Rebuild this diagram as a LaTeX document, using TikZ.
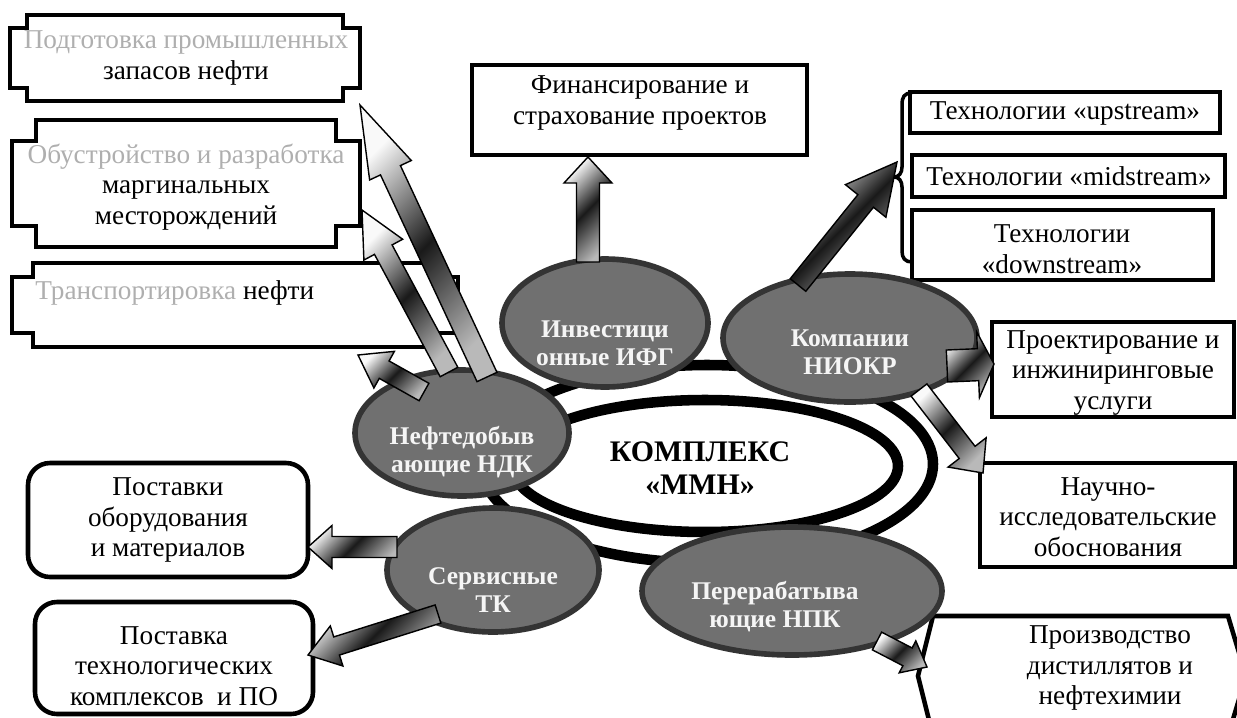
\documentclass[tikz,border=0pt]{standalone}
\usepackage{fontspec}
\setmainfont{Liberation Serif}
\usetikzlibrary{calc,shapes.geometric}
\definecolor{blobfill}{RGB}{112,112,112}
\definecolor{blobedge}{RGB}{52,52,52}
\definecolor{ghost}{RGB}{175,175,175}
\definecolor{blobtxt}{RGB}{245,245,245}
\tikzset{
  boxline/.style={draw=black, line width=2.6pt, fill=white, line join=miter},
  txt/.style={align=center, font=\fontsize{15.5}{17.5}\selectfont, inner sep=0pt},
  blob/.style={ellipse, draw=blobedge, fill=blobfill, line width=3.2pt, inner sep=0pt},
  blobtext/.style={align=center, text=blobtxt, font=\bfseries\fontsize{14.5}{16}\selectfont, inner sep=0pt},
  ring/.style={ellipse, draw=black, line width=6pt, fill=white, inner sep=0pt},
  barrow/.style={draw=black, line width=0.8pt, line join=miter, top color=gray!5, bottom color=gray!55, middle color=black!90, shading angle=45},
  bracestyle/.style={draw=black, line width=2pt},
}
\newcommand\plaque[6]{%
  \draw[boxline] (#1+#5,#2) -- (#3-#5,#2) -- (#3-#5,#2+#6) -- (#3,#2+#6) -- (#3,#4-#6) -- (#3-#5,#4-#6) -- (#3-#5,#4) -- (#1+#5,#4) -- (#1+#5,#4-#6) -- (#1,#4-#6) -- (#1,#2+#6) -- (#1+#5,#2+#6) -- cycle;}
\newcommand\blockarrow[5]{%
  \pgfmathsetmacro\bsw{#3*0.02}\pgfmathsetmacro\bhw{#4*0.02}\pgfmathsetmacro\bhl{#5*0.02}%
  \coordinate (hb) at ($(#2)!\bhl cm!(#1)$);
  \draw[barrow] ($(#1)!\bsw cm!90:(#2)$) -- ($(hb)!\bsw cm!90:(#2)$) -- ($(hb)!\bhw cm!90:(#2)$) -- (#2) -- ($(hb)!\bhw cm!-90:(#2)$) -- ($(hb)!\bsw cm!-90:(#2)$) -- ($(#1)!\bsw cm!-90:(#2)$) -- cycle;}
\begin{document}
\begin{tikzpicture}[x=0.02cm, y=-0.02cm]
\useasboundingbox (0,0) rectangle (1237,717);

% ---- left plaques
\plaque{10}{15}{360}{101}{17}{13}
\plaque{12}{120}{360}{247}{24}{21}
\plaque{12}{263}{458}{347}{21}{14}

% ---- finance box
\draw[boxline] (472,65) rectangle (807,155);
% ---- technology boxes
\draw[boxline] (910,92) rectangle (1220,133);
\draw[boxline] (912,155) rectangle (1225,197);
\draw[boxline] (912,210) rectangle (1213,280);
\draw[bracestyle] (912,93) .. controls (904,93) and (902,97) .. (902,105) -- (902,167) .. controls (902,173) and (899,177) .. (894,177) .. controls (899,177) and (902,181) .. (902,187) -- (902,251) .. controls (902,258) and (905,262) .. (912,262);

% ---- right boxes
\draw[boxline] (992,322) rectangle (1234,417);
\draw[boxline] (980,463) rectangle (1235,567);
\draw[boxline] (933,616) -- (1228,616) -- (1246,676) -- (1228,736) -- (933,736) -- (918,676) -- cycle;

% ---- left bottom rounded boxes
\draw[boxline, rounded corners=22*0.02cm] (28,463) rectangle (308,577);
\draw[boxline, rounded corners=22*0.02cm] (35,602) rectangle (313,714);

% ---- central rings
\node[ring, minimum width=452*0.02cm, minimum height=198*0.02cm] (outer) at (707,464) {};
\node[ring, minimum width=386*0.02cm, minimum height=132*0.02cm] (inner) at (705,466) {};
\node[align=center, font=\bfseries\fontsize{17}{19}\selectfont, inner sep=0pt] (core) at (700,468) {КОМПЛЕКС\\«ММН»};

% ---- satellite ellipses
\node[blob, minimum width=206*0.02cm, minimum height=128*0.02cm] (inv) at (605,323) {};
\node[blob, minimum width=254*0.02cm, minimum height=128*0.02cm] (niokr) at (850,338) {};
\node[blob, minimum width=214*0.02cm, minimum height=126*0.02cm] (ndk) at (462,433) {};
\node[blob, minimum width=212*0.02cm, minimum height=124*0.02cm] (serv) at (493,570) {};
\node[blob, minimum width=300*0.02cm, minimum height=128*0.02cm] (per) at (792,591) {};

\node[blobtext] (invt) at (605,343) {Инвестици\\онные ИФГ};
\node[blobtext] (niokrt) at (850,352) {Компании\\НИОКР};
\node[blobtext] (ndkt) at (462,452) {Нефтедобыв\\ающие НДК};
\node[blobtext] (servt) at (493,590) {Сервисные\\ТК};
\node[blobtext] (pert) at (775,607) {Перерабатыва\\ющие НПК};

% ---- arrow end points
\coordinate (finT) at (588,262);  \coordinate (finH) at (588,157);
\coordinate (ndkAT) at (487,377); \coordinate (ndkAH) at (360,105);
\coordinate (ndkBT) at (449,372); \coordinate (ndkBH) at (362,210);
\coordinate (ndkCT) at (424,392); \coordinate (ndkCH) at (358,355);
\coordinate (nkUT) at (798,285);  \coordinate (nkUH) at (897,162);
\coordinate (nkPT) at (947,366);  \coordinate (nkPH) at (994,364);
\coordinate (nkNT) at (919,390);  \coordinate (nkNH) at (983,473);
\coordinate (svAT) at (397,547);  \coordinate (svAH) at (308,547);
\coordinate (svBT) at (438,614);  \coordinate (svBH) at (308,655);
\coordinate (peT) at (877,641);   \coordinate (peH) at (927,667);

\blockarrow{finT}{finH}{11.5}{24}{26}
\blockarrow{ndkAT}{ndkAH}{11}{23}{72}
\blockarrow{ndkBT}{ndkBH}{10}{22}{45}
\blockarrow{ndkCT}{ndkCH}{10}{21}{30}
\blockarrow{nkUT}{nkUH}{10}{26}{50}
\blockarrow{nkPT}{nkPH}{16}{33}{16}
\blockarrow{nkNT}{nkNH}{10}{24}{26}
\blockarrow{svAT}{svAH}{10.5}{21.5}{24}
\blockarrow{svBT}{svBH}{9.5}{21}{30}
\blockarrow{peT}{peH}{10}{18}{22}

% ---- texts
\node[txt] (p1) at (186,58) {{\color{ghost}Подготовка промышленных}\\запасов нефти};
\node[txt] (p2) at (186,187) {{\color{ghost}Обустройство и разработка}\\маргинальных\\месторождений};
\node[txt, anchor=west] (p3) at (35,293) {{\color{ghost}Транспортировка} нефти};
\node[txt] (fin) at (640,103) {Финансирование и\\страхование проектов};
\node[txt] (up) at (1065,113) {Технологии «upstream»};
\node[txt] (mid) at (1069,176) {Технологии «midstream»};
\node[txt] (down) at (1062,249) {Технологии\\«downstream»};
\node[txt] (proj) at (1113,373) {Проектирование и\\инжиниринговые\\услуги};
\node[txt] (sci) at (1108,517) {Научно-\\исследовательские\\обоснования};
\node[txt] (prod) at (1110,668) {Производство\\дистиллятов и\\нефтехимии};
\node[txt] (sup1) at (168,520) {Поставки\\оборудования\\и материалов};
\node[txt] (sup2) at (174,666) {Поставка\\технологических\\комплексов~ и ПО};
\end{tikzpicture}
\end{document}
